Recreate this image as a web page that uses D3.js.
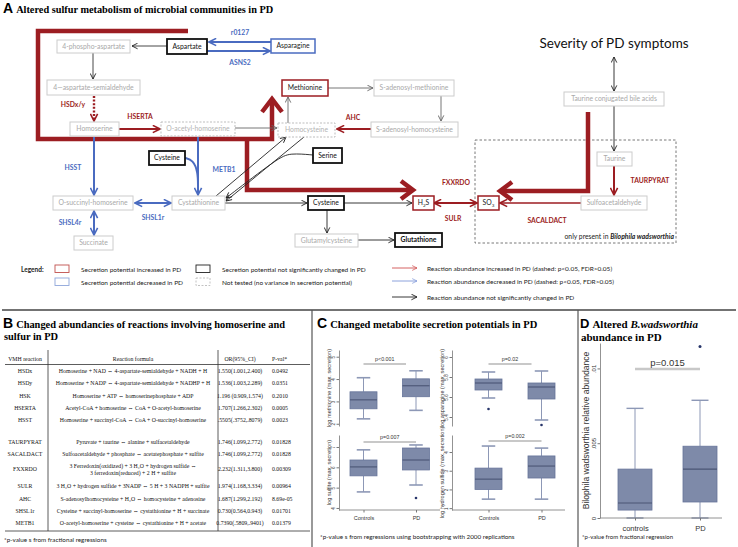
<!DOCTYPE html>
<html><head><meta charset="utf-8">
<script src="https://cdn.jsdelivr.net/npm/d3@7"></script>
<style>body{margin:0;background:#fff}svg{display:block}</style>
</head><body>
<script>
// ---------------- DATA ----------------
// Panel A: metabolites and their secretion-potential status
const nodeNames = ["4-phospho-aspartate","Aspartate","Asparagine","4\u2014aspartate-semialdehyde","Homoserine","O-acetyl-homoserine","Homocysteine","Methionine","S-adenosyl-methionine","S-adenosyl-homocysteine","Cysteine","Serine","O-succinyl-homoserine","Cystathionine","Cysteine","H2S","SO3","Succinate","Glutamylcysteine","Glutathione","Taurine conjugated bile acids","Taurine","Sulfoacetaldehyde"];
const nodeStatus = ["gray","ns","down","gray","gray","nt","nt","up","gray","gray","ns","ns","gray","gray","ns","up","up","gray","gray","ns","gray","gray","gray"];
const reactionLabels = ["r0127","ASNS2","HSDx/y","HSERTA","AHC","HSST","METB1","SHSL1r","SHSL4r","FXXRDO","SULR","TAURPYRAT","SACALDACT"];
const reactionDirection = ["down","down","up","up","up","down","down","down","down","up","up","up","up"];
const legendBoxText = ["Secretion potential increased in PD","Secretion potential decreased in PD","Secretion potential not significantly changed in PD","Not tested (no variance in secretion potential)"];
const legendArrowText = ["Reaction abundance increased in PD (dashed: p<0.05, FDR>0.05)","Reaction abundance decreased in PD (dashed: p<0.05, FDR>0.05)","Reaction abundance not significantly changed  in PD"];

// Panel B: table
const tableHeader = ["VMH reaction","Reaction formula","OR(95%_CI)","P-val*"];
const tableReactions = ["HSDx","HSDy","HSK","HSERTA","HSST","","TAURPYRAT","SACALDACT","FXXRDO","SULR","AHC","SHSL1r","METB1"];
const tableFormulas = [
 ["Homoserine + NAD \u21D4 4-aspartate-semialdehyde + NADH + H"],
 ["Homoserine + NADP \u21D4 4-aspartate-semialdehyde + NADHP + H"],
 ["Homoserine + ATP \u21D4 homoserinephosphate + ADP"],
 ["Acetyl-CoA + homoserine \u21D4 CoA + O-acetyl-homoserine"],
 ["Homoserine + succinyl-CoA \u21D4 CoA + O-succinyl-homoserine"],
 [""],
 ["Pyruvate + taurine \u21D4 alanine + sulfacetaldehyde"],
 ["Sulfoacetaldehyde + phosphate \u21D4 acetatephosphate + sulfite"],
 ["3 Ferredoxin(oxidized) + 3 H\u2082O + hydrogen sulfide \u21D4","3 ferredoxin(reduced) + 2 H + sulfite"],
 ["3 H\u2082O + hydrogen sulfide + 3NADP \u21D4 5 H + 3 NADPH + sulfite"],
 ["S-adenosylhomocysteine + H\u2082O \u21D4 homocysteine + adenosine"],
 ["Cysteine + succinyl-homoserine \u21D4 cystathionine + H + succinate"],
 ["O-acetyl-homoserine + cysteine \u21D4 cystathionine + H + acetate"]];
const tableOR = ["1.550(1.001,2.400)","1.536(1.003,2.289)","1.196 (0.909,1.574)","1.707(1.266,2.302)",".5505(.3752,.8079)","","1.746(1.099,2.772)","1.746(1.099,2.772)","2.232(1.311,3.800)","1.974(1.168,3.334)","1.687(1.299,2.192)","0.730(0.564,0.943)","0.7390(.5809,.9401)"];
const tablePval = ["0.0492","0.0351","0.2010","0.0005","0.0023","","0.01828","0.01828","0.00309","0.00964","8.69e-05","0.01701","0.01379"];

// Panel C: box plot summaries [lower whisker, Q1, median, Q3, upper whisker]
const groupsC = ["Controls","PD"];
const methionineStats = [[2.22,2.67,3.07,3.43,4.06],[2.6,3.21,3.70,4.01,4.37]];
const methionineOutliers = [[],[]];
const methionineTicks = [2,3,4,5];
const asparagineStats = [[5.59,5.67,5.74,5.78,5.85],[5.37,5.58,5.70,5.74,5.86]];
const asparagineOutliers = [[5.48],[5.32]];
const asparagineTicks = [5.4,5.6,5.8,6];
const sulfiteStats = [[4.79,5.58,6.02,6.36,6.86],[5.13,5.87,6.36,6.95,7.1]];
const sulfiteOutliers = [[],[4.49]];
const sulfiteTicks = [4,5,6,7];
const sulfideStats = [[1.48,2.0,2.55,3.14,4.32],[1.48,2.61,3.25,3.79,4.21]];
const sulfideOutliers = [[],[]];
const sulfideTicks = [1,2,3,4];
const pValuesC = ["p<0.001","p=0.02","p=0.007","p=0.002"];

// Panel D
const groupsD = ["controls","PD"];
const bilophilaStats = [[0,0.00053,0.001,0.00327,0.00733],[0,0.00107,0.00327,0.0048,0.00787]];
const bilophilaOutliers = [[],[0.01147]];
const bilophilaTicks = [0,0.005,0.01];
const bilophilaTickLabels = ["0",".005",".01"];
const pValueD = "p=0.015";

// ---------------- LAYOUT / STYLE ----------------
const W=738,H=547;
const RED="#9c1d22", BLUE="#4a6bc0", LGRAYB="#cccccc", LGRAYT="#a9a9a9";
const SANS="Lato, 'Open Sans', sans-serif", SERIF="'Liberation Serif', 'Times New Roman', serif", ARIAL="'Liberation Sans', Arial, sans-serif";
const svg=d3.select("body").append("svg").attr("width",W).attr("height",H);
svg.append("rect").attr("width",W).attr("height",H).attr("fill","#fff");
const defs=svg.append("defs");
function mk(id,color,size,sw){
  defs.append("marker").attr("id",id).attr("viewBox","0 0 10 10").attr("refX",9).attr("refY",5)
   .attr("markerWidth",size).attr("markerHeight",size).attr("markerUnits","userSpaceOnUse").attr("orient","auto-start-reverse")
   .append("path").attr("d","M1,1 L9,5 L1,9").attr("fill","none").attr("stroke",color).attr("stroke-width",sw);
}
mk("mk","#222",7,1.3); mk("mg","#666",7,1.3); mk("mr",RED,9,1.8); mk("mb",BLUE,9,1.8);
const colorOf={up:RED,down:BLUE};
const line=d3.line();
function arrow(pts,color,m,o={}){
  svg.append("path").attr("d",(o.curve?d3.line().curve(o.curve):line)(pts)).attr("fill","none")
   .attr("stroke",color).attr("stroke-width",o.w||0.9).attr("stroke-dasharray",o.dash||null)
   .attr("marker-end",m?`url(#${m})`:null).attr("marker-start",o.both?`url(#${m})`:null);
}

// ===== Panel A =====
const tA=svg.append("text").attr("x",3).attr("y",13);
tA.append("tspan").attr("font-family",ARIAL).attr("font-weight","bold").attr("font-size",14).text("A");
tA.append("tspan").attr("font-family",SERIF).attr("font-weight","bold").attr("font-size",10.3).attr("dx",3).text("Altered sulfur metabolism of microbial communities in PD");

// dashed region
svg.append("rect").attr("x",475).attr("y",140).attr("width",201).attr("height",103).attr("fill","none").attr("stroke","#555").attr("stroke-width",0.8).attr("stroke-dasharray","2.5,2");
const bt=svg.append("text").attr("x",674).attr("y",239).attr("text-anchor","end").attr("font-family",SANS).attr("font-size",6.8).attr("fill","#222");
bt.append("tspan").text("only present in ");
bt.append("tspan").attr("font-weight","bold").attr("font-style","italic").text("Bilophila wadsworthia");

// thick red pathways
function thickPath(pts){svg.append("path").attr("d",line(pts)).attr("fill","none").attr("stroke",RED).attr("stroke-width",4.5).attr("stroke-linejoin","miter");}
thickPath([[188,31],[38,31],[38,139],[272,139],[272,100]]);
thickPath([[247,139],[247,190],[410,190]]);
thickPath([[588,112],[588,191],[502,191]]);
thickPath([[262,112],[272,99],[282,112]]);
thickPath([[401,181],[413,190],[401,199]]);
thickPath([[512,182],[500,191],[512,200]]);

// thin arrows
arrow([[167,46],[132,46]],"#333","mk");
arrow([[93,53],[93,79]],"#333","mk");
arrow([[94,96],[94,121]],RED,"mr",{w:2.4,dash:"2,1.6"});
arrow([[119,129],[160,129]],RED,"mr",{w:2});
arrow([[235,128],[277,128]],"#666","mg");
arrow([[288,123],[288,97]],"#666","mg");
arrow([[328,88],[373,88]],"#666","mg");
arrow([[441,96],[441,121]],"#666","mg");
arrow([[371,129],[337,129]],RED,"mr",{w:2});
arrow([[271,42],[209,42]],BLUE,"mb",{w:2});
arrow([[207,51],[270,51]],BLUE,"mb",{w:2});
arrow([[94,137],[94,195]],BLUE,"mb",{w:2});
arrow([[198,137],[198,195]],BLUE,"mb",{w:2});
arrow([[185,158],[193,160],[198,172],[198,188]],BLUE,null,{w:2,curve:d3.curveBasis});
arrow([[135,203],[171,203]],BLUE,"mb",{w:2,both:true});
arrow([[94,211],[94,235]],BLUE,"mb",{w:2,both:true});
arrow([[225,203],[307,203]],"#222","mk");
arrow([[216,196],[286,137]],"#222","mk");
arrow([[304,137],[226,201]],"#222","mk");
arrow([[313,155],[290,153],[278,158],[226,198]],"#222","mk",{curve:d3.curveBasis});
arrow([[344,203],[412,203]],"#222","mk");
arrow([[327,210],[327,233]],"#222","mk");
arrow([[358,240],[394,240]],"#222","mk");
arrow([[614,57],[614,91]],"#222","mk",{both:true});
arrow([[614,106],[614,151]],"#222","mk");
arrow([[614,166],[614,195]],RED,"mr",{w:2});
arrow([[581,203],[500,203]],RED,"mr",{w:1.5});
arrow([[434,203],[477,203]],RED,"mr",{w:2,both:true});

// nodes
const nodeBoxes=[[57,40,130,53],[167,39,207,54],[271,39,315,53],[47,80,140,95],[70,122,119,136],[161,122,235,136],[278,123,335,137],[282,80,328,96],[374,80,454,96],[371,122,458,137],[149,151,185,165],[313,148,342,163],[53,196,133,210],[172,196,225,210],[308,196,344,210],[413,196,434,210],[478,196,499,210],[74,236,113,250],[295,234,358,247],[395,233,442,247],[564,92,664,106],[597,152,632,166],[581,196,647,210]];
const nodeStyle={
 gray:{s:LGRAYB,w:1,t:LGRAYT,d:null},
 nt:{s:"#bdbdbd",w:1,t:"#b3b3b3",d:"2,1.5"},
 ns:{s:"#111",w:1.8,t:"#111",d:null},
 up:{s:RED,w:1.5,t:"#222",d:null},
 down:{s:BLUE,w:1.5,t:"#222",d:null}};
const subscripted={"H2S":["H","2","S"],"SO3":["SO","3",""]};
const ng=svg.append("g").selectAll("g").data(nodeNames.map((n,i)=>({n,st:nodeStatus[i],b:nodeBoxes[i]}))).join("g");
ng.append("rect").attr("x",d=>d.b[0]).attr("y",d=>d.b[1]).attr("width",d=>d.b[2]-d.b[0]).attr("height",d=>d.b[3]-d.b[1])
 .attr("fill","#fff").attr("stroke",d=>nodeStyle[d.st].s).attr("stroke-width",d=>nodeStyle[d.st].w).attr("stroke-dasharray",d=>nodeStyle[d.st].d);
ng.each(function(d){
  const t=d3.select(this).append("text").attr("x",(d.b[0]+d.b[2])/2).attr("y",(d.b[1]+d.b[3])/2+2.4)
   .attr("text-anchor","middle").attr("font-family",SANS).attr("font-size",6.8).attr("fill",nodeStyle[d.st].t)
   .attr("font-weight",d.n==="Glutathione"?"bold":null);
  const s=subscripted[d.n];
  if(s){t.append("tspan").text(s[0]);t.append("tspan").attr("font-size",4.6).attr("dy",1.5).text(s[1]);if(s[2])t.append("tspan").attr("dy",-1.5).text(s[2]);}
  else t.text(d.n);
});

// reaction labels
const labelPos=[[240,35],[240,65],[73,107],[140,119],[353,120],[73,170],[224,172],[153,220],[70,225],[456,185],[453,221],[650,183],[547,223]];
svg.append("g").selectAll("text").data(reactionLabels).join("text")
 .attr("x",(d,i)=>labelPos[i][0]).attr("y",(d,i)=>labelPos[i][1]).attr("text-anchor","middle")
 .attr("font-family",SANS).attr("font-weight","bold").attr("font-size",6.8).attr("fill",(d,i)=>colorOf[reactionDirection[i]]).text(d=>d);

svg.append("text").attr("x",614).attr("y",48).attr("text-anchor","middle").attr("font-family",SANS).attr("font-size",13.5).attr("fill","#111").text("Severity of PD symptoms");

// legend
svg.append("text").attr("x",21).attr("y",272).attr("font-family",SANS).attr("font-weight","bold").attr("font-size",6.5).attr("fill","#222").text("Legend:");
const lbStyle=[["#c0504d",null],["#8fa6da",null],["#222",null],["#bbb","2,1.5"]];
const lbPos=[[55,265],[55,278],[196,265],[196,278]];
legendBoxText.forEach((t,i)=>{
  svg.append("rect").attr("x",lbPos[i][0]).attr("y",lbPos[i][1]).attr("width",14).attr("height",7.5).attr("fill","#fff").attr("stroke",lbStyle[i][0]).attr("stroke-width",0.9).attr("stroke-dasharray",lbStyle[i][1]);
  svg.append("text").attr("x",lbPos[i][0]+26).attr("y",lbPos[i][1]+6.5).attr("font-family",SANS).attr("font-size",6.5).attr("fill","#222").text(t);
});
mk("mlr","#d05050",6,1.2); mk("mlb","#7f97d8",6,1.2);
const laY=[268,281,297], laCol=[["#d05050","mlr"],["#7f97d8","mlb"],["#222","mk"]];
legendArrowText.forEach((t,i)=>{
  arrow([[392,laY[i]],[417,laY[i]]],laCol[i][0],laCol[i][1],{w:0.9});
  svg.append("text").attr("x",427).attr("y",laY[i]+2.5).attr("font-family",SANS).attr("font-size",6.5).attr("fill","#222").text(t);
});

// separators
svg.append("line").attr("x1",2).attr("x2",736).attr("y1",310).attr("y2",310).attr("stroke","#444").attr("stroke-width",1.5);
svg.append("line").attr("x1",312).attr("x2",312).attr("y1",310).attr("y2",547).attr("stroke","#555").attr("stroke-width",1.2);
svg.append("line").attr("x1",578).attr("x2",578).attr("y1",310).attr("y2",547).attr("stroke","#555").attr("stroke-width",1.2);

// ===== Panel B =====
const tB=svg.append("text").attr("x",3).attr("y",328);
tB.append("tspan").attr("font-family",ARIAL).attr("font-weight","bold").attr("font-size",14).text("B");
tB.append("tspan").attr("font-family",SERIF).attr("font-weight","bold").attr("font-size",10.4).attr("dx",3).text("Changed abundancies of reactions involving homoserine and");
svg.append("text").attr("x",4).attr("y",340).attr("font-family",SERIF).attr("font-weight","bold").attr("font-size",10.4).text("sulfur in PD");

const rowY=[371,383,396,408,420,431,442,454,469,486,499,511,523];
const colX=[25,133,240,272];
const tb=svg.append("g").attr("font-family",SERIF).attr("font-size",5.8).attr("fill","#111");
tableHeader.forEach((h,i)=>tb.append("text").attr("x",colX[i]).attr("y",361).attr("text-anchor",i===3?"start":"middle").text(h));
svg.append("line").attr("x1",5).attr("x2",310).attr("y1",364.5).attr("y2",364.5).attr("stroke","#333").attr("stroke-width",0.8);
svg.append("line").attr("x1",5).attr("x2",310).attr("y1",531).attr("y2",531).attr("stroke","#333").attr("stroke-width",0.8);
[48,218].forEach(x=>svg.append("line").attr("x1",x).attr("x2",x).attr("y1",350).attr("y2",531).attr("stroke","#333").attr("stroke-width",0.8));
tableReactions.forEach((r,i)=>{
  const y=rowY[i]+2;
  tb.append("text").attr("x",colX[0]).attr("y",y).attr("text-anchor","middle").text(r);
  const f=tableFormulas[i];
  f.forEach((l,j)=>tb.append("text").attr("x",colX[1]).attr("y",y+(j-(f.length-1)/2)*7).attr("text-anchor","middle").text(l));
  tb.append("text").attr("x",colX[2]).attr("y",y).attr("text-anchor","middle").text(tableOR[i]);
  tb.append("text").attr("x",colX[3]).attr("y",y).text(tablePval[i]);
});
svg.append("text").attr("x",4).attr("y",542).attr("font-family",SANS).attr("font-size",6.3).attr("fill","#222").text("*p-value s from fractional regressions");

// ===== Panel C =====
const tC=svg.append("text").attr("x",317).attr("y",328);
tC.append("tspan").attr("font-family",ARIAL).attr("font-weight","bold").attr("font-size",14).text("C");
tC.append("tspan").attr("font-family",SERIF).attr("font-weight","bold").attr("font-size",10.5).attr("dx",3).text("Changed metabolite secretion potentials in PD");

const BOXF="#7e8aa9", BOXS="#67749a", MED="#4a5575", WHI="#8d98b6";
function boxplot(cfg){
  const g=svg.append("g");
  const x=d3.scalePoint().domain(cfg.groups).range(cfg.xr);
  const y=d3.scaleLinear().domain(cfg.dom).range(cfg.yr);
  const bw=cfg.bw, cw=bw*0.5;
  cfg.stats.forEach((s,i)=>{
    const cx=x(cfg.groups[i]);
    g.append("line").attr("x1",cx).attr("x2",cx).attr("y1",y(s[0])).attr("y2",y(s[1])).attr("stroke",WHI).attr("stroke-width",1);
    g.append("line").attr("x1",cx).attr("x2",cx).attr("y1",y(s[3])).attr("y2",y(s[4])).attr("stroke",WHI).attr("stroke-width",1);
    [s[0],s[4]].forEach(v=>g.append("line").attr("x1",cx-cw/2).attr("x2",cx+cw/2).attr("y1",y(v)).attr("y2",y(v)).attr("stroke",WHI).attr("stroke-width",cfg.capw||1.6));
    g.append("rect").attr("x",cx-bw/2).attr("y",y(s[3])).attr("width",bw).attr("height",y(s[1])-y(s[3])).attr("fill",BOXF).attr("stroke",BOXS).attr("stroke-width",0.8);
    g.append("line").attr("x1",cx-bw/2).attr("x2",cx+bw/2).attr("y1",y(s[2])).attr("y2",y(s[2])).attr("stroke",MED).attr("stroke-width",1.1);
    cfg.out[i].forEach(v=>g.append("circle").attr("cx",cx).attr("cy",y(v)).attr("r",cfg.or||1.3).attr("fill","#27356a"));
  });
  const ax=g.append("g").attr("transform",`translate(${cfg.ax},0)`).call(d3.axisLeft(y).tickValues(cfg.ticks).tickSize(2.5).tickSizeOuter(0).tickFormat(cfg.fmt||(d=>d)));
  ax.select(".domain").attr("stroke","#777").attr("stroke-width",0.8);
  ax.selectAll(".tick line").attr("stroke","#777");
  ax.selectAll("text").attr("transform","rotate(-90)").attr("x",0).attr("y",-4.5).attr("dy",0).attr("text-anchor","middle").attr("font-family",ARIAL).attr("font-size",cfg.tfs||4.5).attr("fill","#333");
  if(cfg.xaxis){
    const xa=g.append("g").attr("transform",`translate(0,${cfg.yr[0]})`).call(d3.axisBottom(x).tickSize(2.5).tickSizeOuter(0));
    xa.select(".domain").attr("d",`M${cfg.ax},0H${cfg.xend}`).attr("stroke","#777").attr("stroke-width",0.8);
    xa.selectAll(".tick line").attr("stroke","#777");
    xa.selectAll("text").attr("font-family",ARIAL).attr("font-size",cfg.xfs||5.5).attr("fill","#333").attr("dy",cfg.xdy||"0.9em");
  }
  g.append("text").attr("transform",`translate(${cfg.ylx},${(cfg.yr[0]+cfg.yr[1])/2}) rotate(-90)`).attr("text-anchor","middle")
   .attr("font-family",ARIAL).attr("font-size",cfg.yfs||5.6).attr("fill","#333").text(cfg.ylab);
  const x1=x(cfg.groups[0]), x2=x(cfg.groups[1])-(cfg.pshort||0);
  g.append("line").attr("x1",x1).attr("x2",x2).attr("y1",cfg.py).attr("y2",cfg.py).attr("stroke","#c8c8c8").attr("stroke-width",cfg.pw||2.2);
  g.append("text").attr("x",(x1+x2)/2).attr("y",cfg.py-3).attr("text-anchor","middle").attr("font-family",ARIAL).attr("font-size",cfg.pfs||5.3).attr("fill","#333").text(cfg.p);
}
boxplot({groups:groupsC,xr:[363.5,416],yr:[426,350],dom:[1.9,5.3],bw:27,stats:methionineStats,out:methionineOutliers,ticks:methionineTicks,ax:339,ylx:331,ylab:"log methionine (max. secretion)",py:364,p:pValuesC[0],pshort:10});
boxplot({groups:groupsC,xr:[488.5,541.5],yr:[426,350],dom:[5.31,6.07],bw:27,stats:asparagineStats,out:asparagineOutliers,ticks:asparagineTicks,ax:452,ylx:444,ylab:"log asparagine (max. secretion)",py:364,p:pValuesC[1],pshort:10,fmt:d3.format(".1~f")});
boxplot({groups:groupsC,xr:[363.5,416],yr:[510,435],dom:[3.9,7.59],bw:27,stats:sulfiteStats,out:sulfiteOutliers,ticks:sulfiteTicks,ax:339,ylx:331,ylab:"log sulfite (max. secretion)",py:442,p:pValuesC[2],xaxis:true,xend:440});
boxplot({groups:groupsC,xr:[488.5,541.5],yr:[510,435],dom:[0.9,4.91],bw:27,stats:sulfideStats,out:sulfideOutliers,ticks:sulfideTicks,ax:452,ylx:444,ylab:"log hydrogen sulfide (max. secretion)",py:441,p:pValuesC[3],xaxis:true,xend:565});
svg.append("text").attr("x",320).attr("y",539).attr("font-family",SANS).attr("font-size",6.3).attr("fill","#222").text("*p-value s from regressions using bootstrapping with 2000 replications");

// ===== Panel D =====
const tD=svg.append("text").attr("x",580).attr("y",328);
tD.append("tspan").attr("font-family",ARIAL).attr("font-weight","bold").attr("font-size",13).text("D");
tD.append("tspan").attr("font-family",SERIF).attr("font-weight","bold").attr("font-size",11).attr("dx",3).text("Altered ");
tD.append("tspan").attr("font-family",SERIF).attr("font-weight","bold").attr("font-style","italic").attr("font-size",11).text("B.wadsworthia");
svg.append("text").attr("x",581).attr("y",341).attr("font-family",SERIF).attr("font-weight","bold").attr("font-size",11).text("abundance in PD");
boxplot({groups:groupsD,xr:[635,700],yr:[518,343],dom:[0,0.0117],bw:34,stats:bilophilaStats,out:bilophilaOutliers,ticks:bilophilaTicks,
  fmt:(d,i)=>bilophilaTickLabels[i],ax:600,ylx:589,ylab:"Bilophila wadsworthia relative abundance",yfs:8.6,tfs:6,py:369,p:pValueD,pfs:9.5,pw:2.6,
  xaxis:true,xend:722,xfs:7.5,xdy:"1.0em",or:1.5,capw:1.4});
svg.append("text").attr("x",582).attr("y",539).attr("font-family",SANS).attr("font-size",6).attr("fill","#222").text("*p-value from fractional regression");
</script>
</body></html>
